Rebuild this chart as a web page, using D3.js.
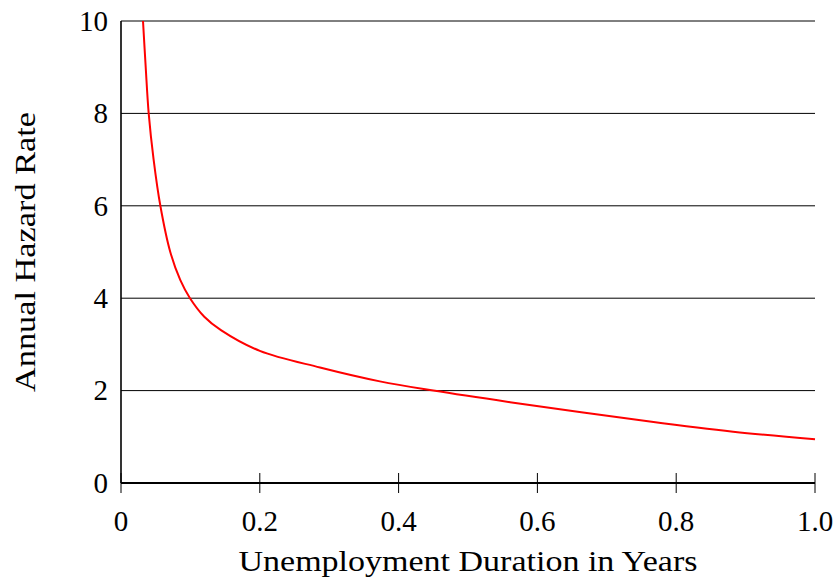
<!DOCTYPE html>
<html>
<head>
<meta charset="utf-8">
<script src="https://cdn.jsdelivr.net/npm/d3@7"></script>
<style>
  body { margin: 0; background: #fff; }
  text { font-family: "Liberation Serif", "Times New Roman", serif; }
</style>
</head>
<body>
<div id="chart"></div>
<script>
// hazard curve
var durations = [0.0317, 0.0356, 0.0399, 0.047, 0.0567, 0.071, 0.0855, 0.0994, 0.12, 0.144, 0.2, 0.2867, 0.373, 0.45, 0.5605, 0.762, 0.882, 1.00]
var hazard    = [10.0, 9.0, 8.0, 7.0, 6.0, 5.0, 4.39, 4.0, 3.6, 3.31, 2.86, 2.50, 2.20, 2.0, 1.75, 1.33, 1.11, 0.945]
var xTicks = [0, 0.2, 0.4, 0.6, 0.8, 1.0]
var xTickLabels = ["0", "0.2", "0.4", "0.6", "0.8", "1.0"]
var yTicks = [0, 2, 4, 6, 8, 10]

var width = 838, height = 580
var margin = { top: 21, right: 23, bottom: 97, left: 121 }

var svg = d3.select("#chart")
  .append("svg")
  .attr("width", width)
  .attr("height", height)

var x = d3.scaleLinear().domain([0, 1]).range([margin.left, width - margin.right])
var y = d3.scaleLinear().domain([0, 10]).range([height - margin.bottom, margin.top])

// gridlines
svg.selectAll(".grid")
  .data(yTicks.filter(function(d) { return d > 0 }))
  .enter()
  .append("line")
  .attr("x1", x(0))
  .attr("x2", x(1))
  .attr("y1", function(d) { return y(d) })
  .attr("y2", function(d) { return y(d) })
  .attr("stroke", "#000")
  .attr("stroke-width", 1)

// y tick labels
svg.selectAll(".ylab")
  .data(yTicks)
  .enter()
  .append("text")
  .attr("x", x(0) - 13)
  .attr("y", function(d) { return y(d) })
  .attr("dy", "0.34em")
  .attr("text-anchor", "end")
  .attr("font-size", 29)
  .text(function(d) { return d })

// x ticks
svg.selectAll(".xtick")
  .data(xTicks)
  .enter()
  .append("line")
  .attr("x1", function(d) { return x(d) })
  .attr("x2", function(d) { return x(d) })
  .attr("y1", y(0) - 10)
  .attr("y2", y(0) + 10)
  .attr("stroke", "#000")
  .attr("stroke-width", 1)

svg.selectAll(".xlab")
  .data(xTicks)
  .enter()
  .append("text")
  .attr("x", function(d) { return x(d) })
  .attr("y", 531)
  .attr("text-anchor", "middle")
  .attr("font-size", 29)
  .text(function(d, i) { return xTickLabels[i] })

// axis lines
svg.append("line")
  .attr("x1", x(0)).attr("x2", x(0))
  .attr("y1", y(10)).attr("y2", y(0))
  .attr("stroke", "#000").attr("stroke-width", 1.6)
svg.append("line")
  .attr("x1", x(0)).attr("x2", x(1))
  .attr("y1", y(0)).attr("y2", y(0))
  .attr("stroke", "#000").attr("stroke-width", 2.2)

// curve
var line = d3.line()
  .x(function(d, i) { return x(durations[i]) })
  .y(function(d) { return y(d) })
  .curve(d3.curveCatmullRom.alpha(0.5))

svg.append("path")
  .datum(hazard)
  .attr("d", line)
  .attr("fill", "none")
  .attr("stroke", "#ff0000")
  .attr("stroke-width", 2)

// axis titles
svg.append("text")
  .attr("x", (x(0) + x(1)) / 2)
  .attr("y", 571)
  .attr("text-anchor", "middle")
  .attr("font-size", 29)
  .attr("textLength", 459)
  .attr("lengthAdjust", "spacingAndGlyphs")
  .text("Unemployment Duration in Years")

svg.append("text")
  .attr("transform", "translate(35," + ((y(0) + y(10)) / 2) + ") rotate(-90)")
  .attr("text-anchor", "middle")
  .attr("font-size", 29)
  .attr("textLength", 280)
  .attr("lengthAdjust", "spacingAndGlyphs")
  .text("Annual Hazard Rate")
</script>
</body>
</html>
